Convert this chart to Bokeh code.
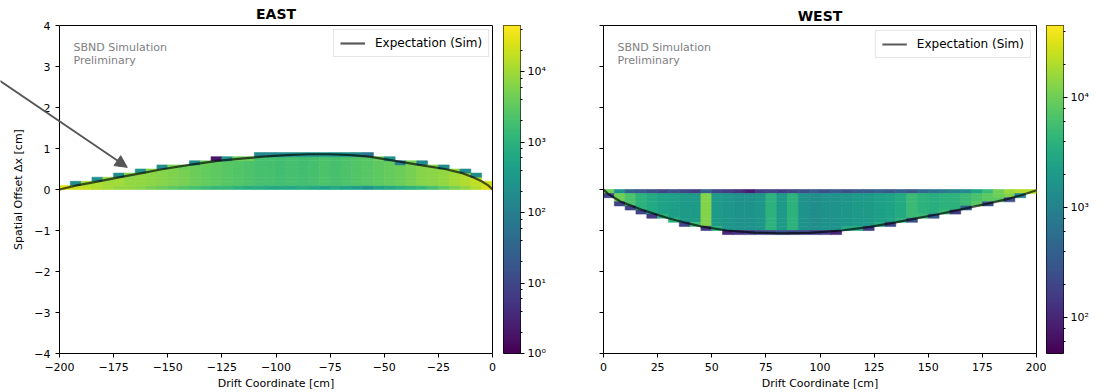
from bokeh.plotting import figure
from bokeh.layouts import row
from bokeh.models import (Range1d, Arrow, NormalHead, Label, CustomJSTickFormatter,
                          FixedTicker, LogTicker, ColumnDataSource, LinearAxis)
from bokeh.palettes import Viridis256
from bokeh.transform import log_cmap
from bokeh.embed import file_html
from bokeh.resources import INLINE

FONT = "DejaVu Sans"

# ---------------- data ----------------
bin_w = 5.0      # cm, drift-coordinate bin width
bin_h = 0.1      # cm, offset bin height

# EAST: columns start at -200 cm, cells fill upward from 0
east_x0 = -200.0
east_rows = [1, 2, 2, 3, 3, 4, 4, 5, 5, 6,
             6, 6, 7, 7, 8, 8, 8, 8, 9, 9,
             9, 9, 9, 9, 9, 9, 9, 9, 9, 8,
             8, 7, 7, 7, 6, 6, 5, 5, 4, 2]
# log10(entries): row at 0, interior rows, cell on the expectation curve
east_base = [4.4, 4.3, 4.2, 4.1, 4.0, 3.9, 3.9, 3.8, 3.7, 3.6,
             3.5, 3.4, 3.3, 3.2, 3.1, 3.1, 3.0, 2.9, 2.9, 2.8,
             2.8, 2.8, 2.9, 2.8, 2.7, 2.8, 2.7, 2.6, 2.4, 2.7,
             2.8, 2.9, 3.0, 3.1, 3.3, 3.5, 3.7, 3.9, 4.1, 4.4]
east_body = [4.4, 4.3, 4.2, 4.1, 4.0, 4.0, 3.9, 3.9, 3.85, 3.8,
             3.75, 3.7, 3.6, 3.55, 3.5, 3.45, 3.4, 3.35, 3.3, 3.3,
             3.25, 3.3, 3.25, 3.3, 3.35, 3.3, 3.35, 3.4, 3.45, 3.5,
             3.55, 3.6, 3.7, 3.8, 3.85, 3.9, 4.0, 4.1, 4.2, 4.3]
east_edge = [4.4, 2.3, 4.0, 2.3, 3.9, 2.3, 3.8, 2.4, 3.8, 2.3,
             3.7, 3.6, 2.3, 3.6, 0.3, 2.4, 3.6, 3.6, 2.2, 2.2,
             2.3, 2.3, 2.4, 2.4, 2.5, 2.4, 2.4, 2.2, 1.8, 3.6,
             2.4, 2.0, 3.7, 2.2, 3.8, 2.3, 3.9, 2.2, 2.3, 4.3]
east_curve_x = [-200, -192, -182, -172, -162, -152, -140, -127, -115, -106,
                -95, -85, -75, -65, -57, -45, -34, -22, -14, -9, -5, -2, 0]
east_curve_y = [0.0, 0.10, 0.20, 0.30, 0.40, 0.50, 0.60, 0.70, 0.76, 0.80,
                0.84, 0.86, 0.86, 0.84, 0.80, 0.70, 0.60, 0.50, 0.40, 0.30, 0.20, 0.10, 0.0]
east_low, east_high = 1.0, 4.5e4

# WEST: columns start at 0 cm, cells fill downward from 0
west_x0 = 0.0
west_rows = [2, 4, 5, 6, 7, 7, 8, 9, 9, 10,
             10, 11, 11, 11, 11, 11, 11, 11, 11, 11,
             11, 11, 10, 10, 10, 9, 9, 8, 8, 7,
             7, 6, 6, 5, 4, 4, 3, 3, 2, 1]
west_base = [4.0, 3.2, 2.6, 2.5, 2.4, 2.3, 2.4, 2.3, 2.2, 2.6,
             2.3, 2.2, 2.1, 1.9, 2.2, 2.3, 2.2, 2.3, 2.4, 2.5,
             2.4, 2.5, 2.4, 2.5, 2.5, 2.6, 2.5, 2.6, 2.5, 2.7,
             2.8, 2.9, 3.0, 3.1, 3.4, 3.7, 4.0, 4.2, 4.3, 4.3]
west_body = [4.1, 4.0, 3.8, 3.6, 3.5, 3.4, 3.35, 3.3, 3.3, 4.1,
             3.3, 3.25, 3.2, 3.2, 3.25, 3.6, 3.3, 3.6, 3.2, 3.15,
             3.2, 3.2, 3.25, 3.3, 3.3, 3.35, 3.4, 3.5, 3.7, 3.6,
             3.55, 3.6, 3.6, 3.7, 3.8, 3.9, 4.0, 4.1, 4.2, 4.3]
west_edge = [2.3, 2.3, 2.3, 2.3, 2.2, 3.6, 3.6, 2.3, 3.7, 2.2,
             3.6, 2.0, 2.1, 2.2, 2.3, 2.3, 2.4, 2.3, 2.3, 2.2,
             2.2, 2.0, 3.5, 3.5, 2.2, 3.5, 2.3, 3.6, 2.4, 3.7,
             2.5, 3.7, 2.2, 2.6, 3.9, 2.4, 3.9, 2.4, 3.0, 4.2]
west_curve_x = [0, 2, 5, 8, 13, 18, 24, 30, 37, 45, 57, 70, 82, 95, 110,
                123, 135, 145, 154, 162, 170, 178, 186, 193, 200]
west_curve_y = [0.0, -0.10, -0.20, -0.30, -0.40, -0.50, -0.60, -0.70, -0.80, -0.90,
                -1.00, -1.05, -1.07, -1.06, -1.00, -0.91, -0.80, -0.70, -0.61,
                -0.52, -0.43, -0.34, -0.24, -0.14, -0.02]
west_low, west_high = 47.0, 4.5e4

east_xticks = [-200, -175, -150, -125, -100, -75, -50, -25, 0]
west_xticks = [0, 25, 50, 75, 100, 125, 150, 175, 200]
yticks = [-4, -3, -2, -1, 0, 1, 2, 3, 4]

# arrow annotation (data coordinates of the east panel)
arrow_start = (-228.0, 2.67)
arrow_end = (-168.7, 0.54)

# ---------------- helpers ----------------
MINUS_FMT = CustomJSTickFormatter(code="""
    const v = Math.abs(tick) < 1e-9 ? 0 : tick;
    return (v < 0 ? "\\u2212" : "") + Math.abs(v).toString();
""")
SUP_FMT = CustomJSTickFormatter(code="""
    const sup = {"0":"\\u2070","1":"\\u00b9","2":"\\u00b2","3":"\\u00b3","4":"\\u2074",
                 "5":"\\u2075","6":"\\u2076","7":"\\u2077","8":"\\u2078","9":"\\u2079","-":"\\u207b"};
    const e = Math.round(Math.log10(tick));
    return "10" + String(e).split("").map(c => sup[c]).join("");
""")
EMPTY_FMT = CustomJSTickFormatter(code="return '';")


def hist_cells(x0, rows, base, body, edge, sign):
    L, R, B, T, C = [], [], [], [], []
    for i, n in enumerate(rows):
        left = x0 + i * bin_w
        for r in range(n):
            if r == 0:
                v = base[i]
            elif r == n - 1:
                v = edge[i]
            else:
                v = body[i]
            if sign > 0:
                b, t = r * bin_h, (r + 1) * bin_h
            else:
                b, t = -(r + 1) * bin_h, -r * bin_h
            L.append(left); R.append(left + bin_w); B.append(b); T.append(t)
            C.append(10 ** v)
    return ColumnDataSource(dict(left=L, right=R, bottom=B, top=T, count=C))


def style_axis(ax):
    ax.axis_line_color = "black"
    ax.axis_line_width = 1
    ax.major_tick_line_color = "black"
    ax.minor_tick_line_color = None
    ax.major_tick_out = 4
    ax.major_tick_in = 0
    ax.major_label_text_font = FONT
    ax.major_label_text_font_size = "11px"
    ax.major_label_text_color = "black"
    ax.axis_label_text_font = FONT
    ax.axis_label_text_font_size = "11px"
    ax.axis_label_text_font_style = "normal"
    ax.axis_label_text_color = "black"


def spine(bounds, loc):
    return LinearAxis(bounds=bounds, fixed_location=loc, ticker=FixedTicker(ticks=[]),
                      formatter=EMPTY_FMT, axis_line_color="black",
                      major_tick_line_color=None, minor_tick_line_color=None,
                      major_label_text_font_size="0px")


def add_common(p, src, low, high, cx, cy):
    cmap = log_cmap("count", Viridis256, low, high)
    p.quad(left="left", right="right", bottom="bottom", top="top", source=src,
           fill_color=cmap, line_color=cmap, line_width=0.6)
    p.line(cx, cy, line_color="black", line_alpha=0.65, line_width=2.2,
           legend_label="Expectation (Sim)")
    p.xgrid.visible = False
    p.ygrid.visible = False
    lg = p.legend[0]
    lg.padding = 6
    lg.spacing = 0
    lg.border_line_color = "#cccccc"
    lg.border_line_width = 1
    lg.background_fill_alpha = 0.85
    lg.label_text_font = FONT
    lg.label_text_font_size = "12px"
    lg.label_text_color = "black"
    lg.glyph_width = 25
    lg.glyph_height = 12
    lg.label_standoff = 10
    lg.label_height = 12


def sbnd_label(x):
    return Label(x=x, y=3.62, text="SBND Simulation\nPreliminary",
                 text_font=FONT, text_font_size="11px", text_color="#808080",
                 text_baseline="top", text_align="left", text_line_height=1.0)


# ---------------- EAST panel ----------------
# The drawing frame spans the whole figure (frame not aligned with its
# neighbours) so that the arrow may start at the page edge; the axes sit at the
# data edges of the histogram.
PX_X = 433 / 200.0
PX_Y = 328 / 8.0
p_east = figure(width=503, height=392,
                x_range=Range1d(-200 - 59 / PX_X, 11 / PX_X),
                y_range=Range1d(-4 - 39 / PX_Y, 4 + 25 / PX_Y),
                min_border_left=0, min_border_right=0, min_border_top=0,
                min_border_bottom=0, output_backend="svg", toolbar_location=None)
p_east.frame_align = False
add_common(p_east, hist_cells(east_x0, east_rows, east_base, east_body, east_edge, +1),
           east_low, east_high, east_curve_x, east_curve_y)
p_east.outline_line_color = None
xa = p_east.xaxis[0]
ya = p_east.yaxis[0]
xa.ticker = FixedTicker(ticks=east_xticks)
ya.ticker = FixedTicker(ticks=yticks)
xa.formatter = MINUS_FMT
ya.formatter = MINUS_FMT
xa.axis_label = "Drift Coordinate [cm]"
ya.axis_label = "Spatial Offset \u0394x [cm]"
xa.bounds = (-200, 0)
ya.bounds = (-4, 4)
xa.fixed_location = -4
ya.fixed_location = -200
style_axis(xa)
style_axis(ya)
xa.major_label_standoff = 5
xa.axis_label_standoff = 3
ya.major_label_standoff = 5
ya.axis_label_standoff = 6
p_east.add_layout(spine((-200, 0), 4), "above")
p_east.add_layout(spine((-4, 4), 0), "right")
p_east.add_layout(Label(x=-100, y=4, y_offset=4, text="EAST",
                        text_font=FONT, text_font_size="14px", text_font_style="bold",
                        text_color="black", text_align="center", text_baseline="bottom"))
p_east.legend[0].location = (333, 335)
p_east.add_layout(sbnd_label(-193.5))
p_east.add_layout(Arrow(end=NormalHead(size=12, fill_color="#555555", line_color="#555555"),
                        x_start=arrow_start[0], y_start=arrow_start[1],
                        x_end=arrow_end[0], y_end=arrow_end[1],
                        line_color="#555555", line_width=1.8))

# ---------------- WEST panel ----------------
p_west = figure(width=471, height=392, x_range=Range1d(0, 200), y_range=Range1d(-4, 4),
                min_border_left=28, min_border_right=10, min_border_top=25,
                min_border_bottom=39, output_backend="svg", toolbar_location=None,
                title="WEST")
add_common(p_west, hist_cells(west_x0, west_rows, west_base, west_body, west_edge, -1),
           west_low, west_high, west_curve_x, west_curve_y)
p_west.outline_line_color = "black"
p_west.xaxis.ticker = FixedTicker(ticks=west_xticks)
p_west.yaxis.ticker = FixedTicker(ticks=yticks)
p_west.xaxis.formatter = MINUS_FMT
p_west.yaxis.formatter = EMPTY_FMT
p_west.xaxis.axis_label = "Drift Coordinate [cm]"
style_axis(p_west.xaxis[0])
style_axis(p_west.yaxis[0])
p_west.xaxis.major_label_standoff = 5
p_west.xaxis.axis_label_standoff = 3
p_west.title.align = "center"
p_west.title.text_font = FONT
p_west.title.text_font_size = "14px"
p_west.title.text_font_style = "bold"
p_west.title.text_color = "black"
p_west.title.standoff = 4
p_west.legend[0].location = "top_right"
p_west.legend[0].margin = 5
p_west.add_layout(sbnd_label(6.5))


# ---------------- colour bars ----------------
def colorbar_panel(low, high, width, mbr, label_x):
    cb = figure(width=width, height=392, x_range=Range1d(0, 1),
                y_range=Range1d(low, high), y_axis_type="log", y_axis_location="right",
                x_axis_location=None, min_border_left=0, min_border_right=mbr,
                min_border_top=25, min_border_bottom=39, output_backend="svg",
                toolbar_location=None)
    n = len(Viridis256)
    ratio = high / low
    bottoms = [low * ratio ** (i / n) for i in range(n)]
    tops = [low * ratio ** (min(i + 2.0, n) / n) for i in range(n)]
    mids = [low * ratio ** ((i + 0.5) / n) for i in range(n)]
    cmap = log_cmap("v", Viridis256, low, high)
    cb.quad(left=0, right=1, bottom="bottom", top="top",
            source=ColumnDataSource(dict(bottom=bottoms, top=tops, v=mids)),
            fill_color=cmap, line_color=None)
    ax = cb.yaxis[0]
    ax.ticker = LogTicker()
    ax.formatter = SUP_FMT
    ax.axis_line_color = None
    ax.major_tick_line_color = "black"
    ax.minor_tick_line_color = "black"
    ax.major_tick_out = 4
    ax.major_tick_in = 0
    ax.minor_tick_out = 2
    ax.minor_tick_in = 0
    ax.major_label_standoff = 3
    ax.major_label_text_font = FONT
    ax.major_label_text_font_size = "11px"
    ax.major_label_text_color = "black"
    cb.xgrid.visible = False
    cb.ygrid.visible = False
    cb.outline_line_color = "black"
    cb.outline_line_width = 1
    cb.add_layout(Label(x=label_x, y=(low * high) ** 0.5, text="Entries", angle=90,
                        angle_units="deg", text_font=FONT, text_font_size="11px",
                        text_color="black", text_align="center", text_baseline="middle"))
    return cb


cb_east = colorbar_panel(east_low, east_high, 72, 55, 3.35)
cb_west = colorbar_panel(west_low, west_high, 65, 48, 3.4)

layout = row(p_east, cb_east, p_west, cb_west, spacing=0)
open("out.html", "w").write(file_html(layout, INLINE))
